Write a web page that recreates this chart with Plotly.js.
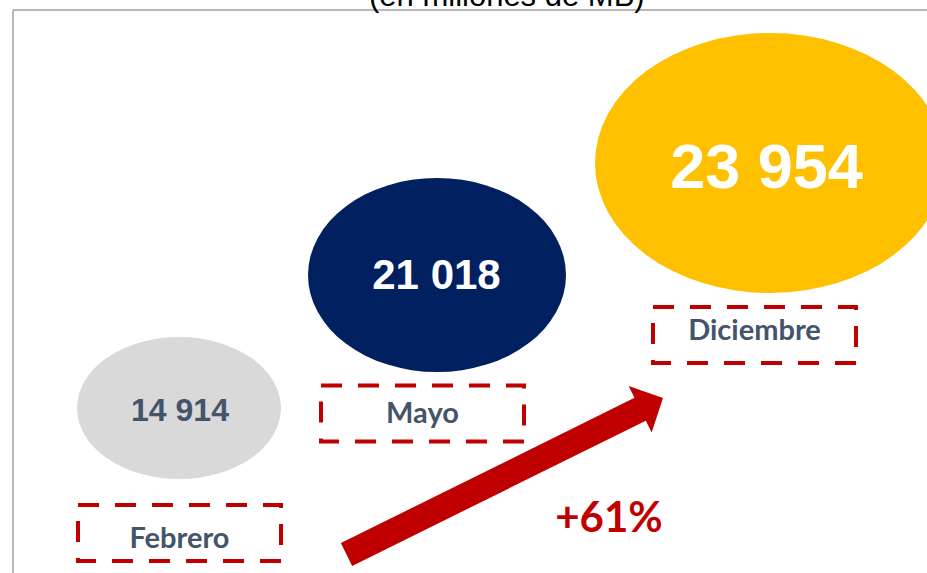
<!DOCTYPE html>
<html>
<head>
<meta charset="utf-8">
<script src="https://cdn.plot.ly/plotly-3.0.1.min.js"></script>
<style>html,body{margin:0;padding:0;background:#fff;}#chart{width:927px;height:573px;}</style>
</head>
<body>
<div id="chart"></div>
<script>
// ---- data ----
const months = ['Febrero', 'Mayo', 'Diciembre'];
const values = [14914, 21018, 23954];
const subtitle = '(en millones de MB)';

// ---- layout (pixel-like coordinates of the canvas) ----
const bubbleX = [179, 437, 770];
const bubbleY = [408, 275, 163];
const bubbleRX = [102, 129, 175];
const bubbleRY = [71, 97, 130];
const bubbleColor = ['#d9d9d9', '#002060', '#ffc000'];
const numX = [180, 436.5, 766.5];
const numY = [410, 274, 165.5];
const numSize = [32, 42, 63];
const numColor = ['#44546a', '#ffffff', '#ffffff'];
const boxX = [179.5, 422.5, 754.5];
const boxY = [533, 413.5, 335];
const boxW = 203, boxH = 56;
const labelY = [537.5, 413, 329.5];
const labelSize = 29;
const growthSize = 42;
const arrowTail = [346.5, 554.5], arrowTip = [663, 398];
const shaftW = 25.5, headW = 52, headL = 25.5;
const growthPos = [609, 517.5];
const vShift = 0.1; // em, baseline correction for middle-anchored text

function fmt(v) { return String(v).replace(/\B(?=(\d{3})+(?!\d))/g, ' '); }
const growth = '+' + Math.round((values[values.length - 1] / values[0] - 1) * 100) + '%';

const shapes = [];
// frame (left and top edges)
shapes.push({type: 'line', xref: 'x', yref: 'y', x0: 13, y0: 10, x1: 13, y1: 573,
  line: {color: '#a0a0a0', width: 1.5}, layer: 'below'});
shapes.push({type: 'line', xref: 'x', yref: 'y', x0: 13, y0: 10, x1: 927, y1: 10,
  line: {color: '#a0a0a0', width: 1.5}, layer: 'below'});
// bubbles and label boxes
months.forEach((m, i) => {
  shapes.push({type: 'circle', xref: 'x', yref: 'y',
    x0: bubbleX[i] - bubbleRX[i], x1: bubbleX[i] + bubbleRX[i],
    y0: bubbleY[i] - bubbleRY[i], y1: bubbleY[i] + bubbleRY[i],
    fillcolor: bubbleColor[i], line: {width: 0}, layer: 'below'});
  shapes.push({type: 'rect', xref: 'x', yref: 'y',
    x0: boxX[i] - boxW / 2, x1: boxX[i] + boxW / 2,
    y0: boxY[i] - boxH / 2, y1: boxY[i] + boxH / 2,
    line: {color: '#c00000', width: 4, dash: '21px,16px'}, fillcolor: 'rgba(0,0,0,0)', layer: 'below'});
});
// arrow
(function () {
  const dx = arrowTip[0] - arrowTail[0], dy = arrowTip[1] - arrowTail[1];
  const L = Math.hypot(dx, dy);
  const ux = dx / L, uy = dy / L, nx = -uy, ny = ux;
  const bx = arrowTip[0] - ux * headL, by = arrowTip[1] - uy * headL;
  const pts = [
    [arrowTail[0] + nx * shaftW / 2, arrowTail[1] + ny * shaftW / 2],
    [bx + nx * shaftW / 2, by + ny * shaftW / 2],
    [bx + nx * headW / 2, by + ny * headW / 2],
    arrowTip,
    [bx - nx * headW / 2, by - ny * headW / 2],
    [bx - nx * shaftW / 2, by - ny * shaftW / 2],
    [arrowTail[0] - nx * shaftW / 2, arrowTail[1] - ny * shaftW / 2]
  ];
  const path = 'M ' + pts.map(p => p[0].toFixed(2) + ',' + p[1].toFixed(2)).join(' L ') + ' Z';
  shapes.push({type: 'path', xref: 'x', yref: 'y', path: path, fillcolor: '#c00000', line: {width: 0}, layer: 'below'});
})();

const traces = [
  {type: 'scatter', mode: 'text', x: numX, y: numY.map((y, i) => y + vShift * numSize[i]), text: values.map(fmt),
    textposition: 'middle center', cliponaxis: false, hoverinfo: 'skip', showlegend: false,
    textfont: {family: 'Liberation Sans, Arial, sans-serif', size: numSize, color: numColor, weight: 'bold'}},
  {type: 'scatter', mode: 'text', x: boxX, y: labelY.map(y => y + vShift * labelSize), text: months,
    textposition: 'middle center', cliponaxis: false, hoverinfo: 'skip', showlegend: false,
    textfont: {family: 'Lato, sans-serif', size: labelSize, color: '#44546a', weight: 'bold'}},
  {type: 'scatter', mode: 'text', x: [growthPos[0]], y: [growthPos[1] + vShift * growthSize], text: [growth],
    textposition: 'middle center', cliponaxis: false, hoverinfo: 'skip', showlegend: false,
    textfont: {family: 'Lato, sans-serif', size: growthSize, color: '#c00000', weight: 'bold'}}
];

const layout = {
  width: 927, height: 573,
  margin: {l: 0, r: 0, t: 0, b: 0, pad: 0},
  paper_bgcolor: '#ffffff', plot_bgcolor: '#ffffff',
  showlegend: false,
  xaxis: {range: [0, 927], visible: false, fixedrange: true},
  yaxis: {range: [573, 0], visible: false, fixedrange: true},
  shapes: shapes,
  annotations: [{text: subtitle, xref: 'paper', yref: 'paper', x: 507 / 927, y: 1 + 4.5 / 573,
    xanchor: 'center', yanchor: 'middle', showarrow: false,
    font: {family: 'Liberation Sans, Arial, sans-serif', size: 31, color: '#000000'}}]
};

Plotly.newPlot('chart', traces, layout, {staticPlot: true, displayModeBar: false});
</script>
</body>
</html>
